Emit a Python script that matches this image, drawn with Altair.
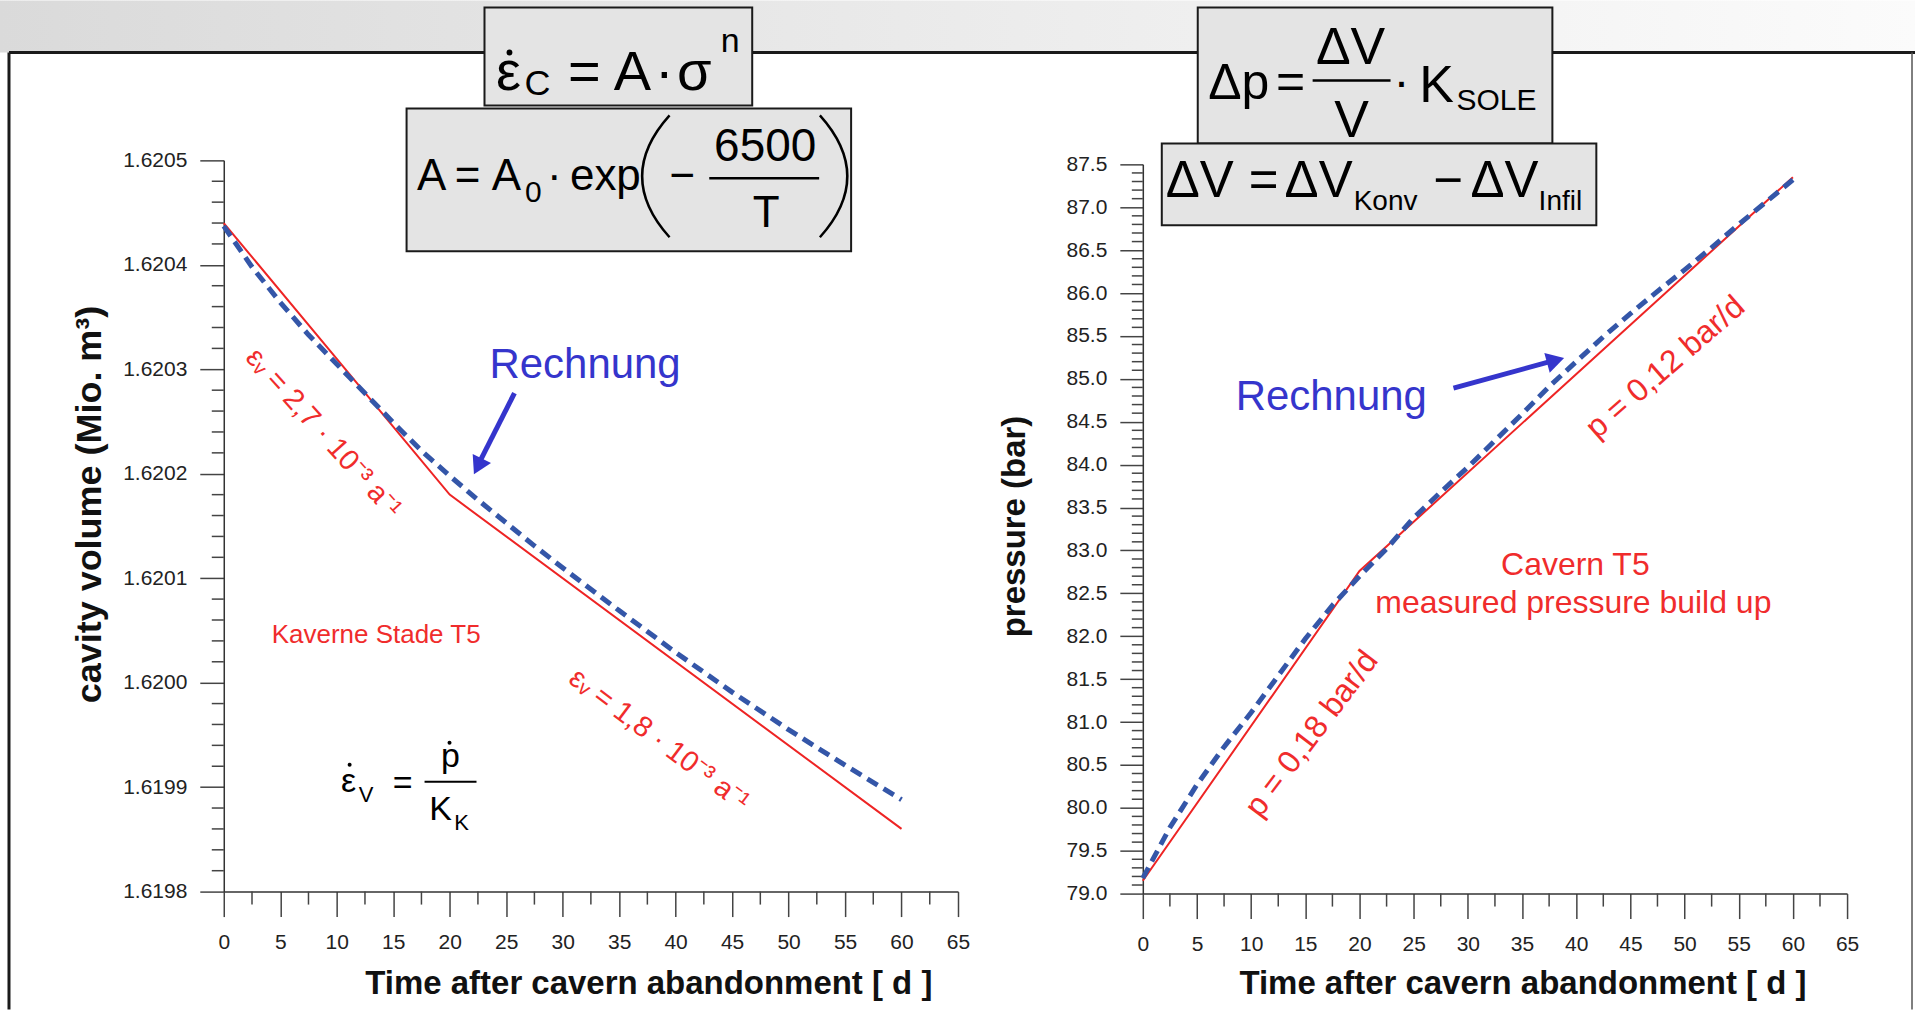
import altair as alt
import pandas as pd

# ---------------- data ----------------
vol_days_meas = [0, 20, 60]
vol_meas = [1.62044, 1.62018, 1.61986]
vol_days_calc = [0, 2.5, 5, 7.5, 10, 12.5, 15, 17.5, 20, 22.5, 25, 27.5, 30, 35, 40, 45, 50, 55, 60]
vol_calc = [1.620437, 1.620398, 1.620364, 1.620333, 1.620305, 1.620277, 1.620249, 1.620222, 1.620198,
            1.620175, 1.620153, 1.620131, 1.620110, 1.620069, 1.620029, 1.619991, 1.619955,
            1.619921, 1.619888]

p_days_meas = [0, 20, 60]
p_meas = [79.15, 82.76, 87.35]
p_days_calc = [0, 2.5, 5, 7.5, 10, 12.5, 15, 17.5, 20, 22.5, 25, 27.5, 30, 32.5, 35, 37.5,
               40, 42.5, 45, 47.5, 50, 52.5, 55, 57.5, 60]
p_calc = [79.18, 79.77, 80.27, 80.71, 81.11, 81.54, 81.97, 82.36, 82.70, 83.02, 83.38, 83.68,
          83.97, 84.28, 84.59, 84.91, 85.20, 85.49, 85.76, 86.02, 86.27, 86.53, 86.80, 87.06, 87.32]

x_ticks = [0, 5, 10, 15, 20, 25, 30, 35, 40, 45, 50, 55, 60, 65]
vol_ticks = [1.6198, 1.6199, 1.6200, 1.6201, 1.6202, 1.6203, 1.6204, 1.6205]
p_ticks = [79.0, 79.5, 80.0, 80.5, 81.0, 81.5, 82.0, 82.5, 83.0, 83.5, 84.0, 84.5,
           85.0, 85.5, 86.0, 86.5, 87.0, 87.5]
x_minor = [t + 2.5 for t in x_ticks[:-1]]
vol_minor = [round(1.6198 + 0.00002 * i, 5) for i in range(36) if i % 5]
p_minor = [round(79.0 + 0.1 * i, 1) for i in range(86) if i % 5]

# ---------------- layout / style ----------------
FONT = "Liberation Sans"
RED = "#ee2424"
RED_TXT = "#f02c2c"
BLUE_LINE = "#3456a8"
BLUE_TXT = "#3535cc"
BOX_FILL = "#e4e4e4"

L_X0, L_Y0, L_W, L_H = 224, 160, 735, 732
R_X0, R_Y0, R_W, R_H = 1144, 160, 705, 734
SPACING = R_X0 - (L_X0 + L_W)

ONE = pd.DataFrame({"k": [0]})


def txt(s, x, y, size, ox, oy, color="#000", align="center", baseline="alphabetic",
        angle=0, weight="normal"):
    return alt.Chart(ONE).mark_text(
        text=s, align=align, baseline=baseline, angle=angle, font=FONT,
        fontSize=size, fontWeight=weight, color=color
    ).encode(x=alt.value(x - ox), y=alt.value(y - oy))


def rect(x, x2, y, y2, ox, oy, fill, stroke=None, sw=0):
    kw = dict(fill=fill)
    if stroke:
        kw.update(stroke=stroke, strokeWidth=sw)
    return alt.Chart(ONE).mark_rect(**kw).encode(
        x=alt.value(x - ox), x2=alt.value(x2 - ox), y=alt.value(y - oy), y2=alt.value(y2 - oy))


def rule(x, y, x2, y2, ox, oy, color="#000", sw=2):
    return alt.Chart(ONE).mark_rule(color=color, strokeWidth=sw).encode(
        x=alt.value(x - ox), y=alt.value(y - oy), x2=alt.value(x2 - ox), y2=alt.value(y2 - oy))


def sym(x, y, ox, oy, shape, size, color="#000", filled=True, angle=0, sw=2.5):
    return alt.Chart(ONE).mark_point(
        shape=shape, size=size, filled=filled, color=color, opacity=1, angle=angle,
        strokeWidth=(0 if filled else sw)
    ).encode(x=alt.value(x - ox), y=alt.value(y - oy))


# ---------------- left panel ----------------
xsL = alt.Scale(domain=[0, 65], nice=False, zero=False)
ysL = alt.Scale(domain=[1.6198, 1.6205], nice=False, zero=False)
xaL = alt.Axis(values=x_ticks, format="d", tickSize=25, labelPadding=15,
               title="Time after cavern abandonment [ d ]", titleX=425, titleY=102,
               titleAlign="center", titleBaseline="alphabetic")
yaL = alt.Axis(values=vol_ticks, format=".4f", tickSize=24, labelPadding=13,
               title="cavity volume (Mio. m³)", titleX=-134, titleY=344, titleAngle=270,
               titleAlign="center", titleBaseline="middle", titleFontSize=36)

dfL_meas = pd.DataFrame({"day": vol_days_meas, "val": vol_meas})
dfL_calc = pd.DataFrame({"day": vol_days_calc, "val": vol_calc})
dfL_xm = pd.DataFrame({"day": x_minor})
dfL_ym = pd.DataFrame({"val": vol_minor})

left_layers = [
    # slide background band and frame
    alt.Chart(ONE).mark_rect(
        fill=alt.Gradient(gradient="linear", x1=0, x2=1, y1=0, y2=0,
                          stops=[alt.GradientStop(color="#dadada", offset=0),
                                 alt.GradientStop(color="#ebebeb", offset=0.5),
                                 alt.GradientStop(color="#fbfbfb", offset=1)])
    ).encode(x=alt.value(0 - L_X0), x2=alt.value(1917 - L_X0),
             y=alt.value(0 - L_Y0), y2=alt.value(52 - L_Y0)),
    rule(9, 52, 1917, 52, L_X0, L_Y0, "#1a1a1a", 3),
    rule(9, 52, 9, 1010, L_X0, L_Y0, "#1a1a1a", 3),
    # formula box 1
    rect(485, 753, 7, 105, L_X0, L_Y0, BOX_FILL, "#1a1a1a", 2),
    txt("ε", 509, 90, 56, L_X0, L_Y0),
    sym(510, 52, L_X0, L_Y0, "circle", 34),
    txt("C", 538, 95, 36, L_X0, L_Y0),
    txt("=", 585, 90, 56, L_X0, L_Y0),
    txt("A", 633, 90, 56, L_X0, L_Y0),
    txt("·", 665, 90, 56, L_X0, L_Y0),
    txt("σ", 695, 90, 56, L_X0, L_Y0),
    txt("n", 731, 52, 34, L_X0, L_Y0),
    # formula box 2
    rect(407, 852, 108, 251, L_X0, L_Y0, BOX_FILL, "#1a1a1a", 2),
    txt("A", 432, 190, 44, L_X0, L_Y0),
    txt("=", 468, 190, 44, L_X0, L_Y0),
    txt("A", 507, 190, 44, L_X0, L_Y0),
    txt("0", 534, 202, 30, L_X0, L_Y0),
    txt("·", 555, 190, 44, L_X0, L_Y0),
    txt("exp", 606, 190, 44, L_X0, L_Y0),
    sym(655, 176, L_X0, L_Y0, "M0.25,-1 Q-0.65,0 0.25,1", 14884, filled=False, sw=2.5),
    txt("−", 683, 190, 44, L_X0, L_Y0),
    rule(710, 178, 820, 178, L_X0, L_Y0, "#000", 2.5),
    txt("6500", 766, 161, 46, L_X0, L_Y0),
    txt("T", 767, 227, 44, L_X0, L_Y0),
    sym(836, 176, L_X0, L_Y0, "M-0.25,-1 Q0.65,0 -0.25,1", 14884, filled=False, sw=2.5),
    # minor ticks
    alt.Chart(dfL_xm).mark_rule(color="#444", strokeWidth=1.5).encode(
        x=alt.X("day:Q", scale=xsL, axis=xaL), y=alt.value(L_H), y2=alt.value(L_H + 13)),
    alt.Chart(dfL_ym).mark_rule(color="#444", strokeWidth=1.5).encode(
        y=alt.Y("val:Q", scale=ysL, axis=yaL), x=alt.value(-12), x2=alt.value(0)),
    # data
    alt.Chart(dfL_meas).mark_line(color=RED, strokeWidth=2).encode(
        x=alt.X("day:Q", scale=xsL, axis=xaL), y=alt.Y("val:Q", scale=ysL, axis=yaL)),
    alt.Chart(dfL_calc).mark_line(color=BLUE_LINE, strokeWidth=5, strokeDash=[12, 7]).encode(
        x=alt.X("day:Q", scale=xsL, axis=xaL), y=alt.Y("val:Q", scale=ysL, axis=yaL)),
    # annotations
    txt("Rechnung", 490, 378, 42, L_X0, L_Y0, BLUE_TXT, align="left"),
    rule(515, 393, 478, 466, L_X0, L_Y0, BLUE_TXT, 5),
    sym(478.4, 466.4, L_X0, L_Y0, "triangle-up", 420, BLUE_TXT, angle=206.6),
    txt("εᵥ = 2,7 · 10⁻³ a⁻¹", 324, 433, 29, L_X0, L_Y0, RED_TXT, baseline="middle", angle=48),
    txt("εᵥ = 1,8 · 10⁻³ a⁻¹", 660, 740, 29, L_X0, L_Y0, RED_TXT, baseline="middle", angle=37),
    txt("Kaverne Stade T5", 272, 643, 26, L_X0, L_Y0, RED_TXT, align="left"),
    # small formula
    txt("ε", 349, 792, 34, L_X0, L_Y0),
    sym(350, 765, L_X0, L_Y0, "circle", 16),
    txt("V", 366.5, 802, 22, L_X0, L_Y0),
    txt("=", 403, 794, 34, L_X0, L_Y0),
    txt("p", 451, 767, 34, L_X0, L_Y0),
    sym(450, 743, L_X0, L_Y0, "circle", 16),
    rule(425, 782, 477, 782, L_X0, L_Y0, "#000", 2),
    txt("K", 441, 820, 34, L_X0, L_Y0),
    txt("K", 462, 830, 22, L_X0, L_Y0),
]
left = alt.layer(*left_layers).properties(width=L_W, height=L_H)

# ---------------- right panel ----------------
xsR = alt.Scale(domain=[0, 65], nice=False, zero=False)
ysR = alt.Scale(domain=[79, 87.5], nice=False, zero=False, range=[R_H, 4])
xaR = alt.Axis(values=x_ticks, format="d", tickSize=25, labelPadding=15,
               title="Time after cavern abandonment [ d ]", titleX=380, titleY=100,
               titleAlign="center", titleBaseline="alphabetic")
yaR = alt.Axis(values=p_ticks, format=".1f", tickSize=23, labelPadding=13,
               title="pressure (bar)", titleX=-128, titleY=366, titleAngle=270,
               titleAlign="center", titleBaseline="middle")

dfR_meas = pd.DataFrame({"day": p_days_meas, "val": p_meas})
dfR_calc = pd.DataFrame({"day": p_days_calc, "val": p_calc})
dfR_xm = pd.DataFrame({"day": x_minor})
dfR_ym = pd.DataFrame({"val": p_minor})

right_layers = [
    rule(1914, 52, 1914, 1010, R_X0, R_Y0, "#555", 1.5),
    # formula box 3
    rect(1199, 1554, 7, 143, R_X0, R_Y0, BOX_FILL, "#1a1a1a", 2),
    txt("Δp", 1240, 99, 50, R_X0, R_Y0),
    txt("=", 1292, 98, 50, R_X0, R_Y0),
    txt("ΔV", 1352, 64, 52, R_X0, R_Y0),
    rule(1314, 80, 1392, 80, R_X0, R_Y0, "#000", 2.5),
    txt("V", 1353, 137, 52, R_X0, R_Y0),
    txt("·", 1403, 98, 48, R_X0, R_Y0),
    txt("K", 1438, 102, 52, R_X0, R_Y0),
    txt("SOLE", 1498, 110, 30, R_X0, R_Y0),
    # formula box 4
    rect(1163, 1598, 143, 225, R_X0, R_Y0, BOX_FILL, "#1a1a1a", 2),
    txt("ΔV", 1201, 197, 51, R_X0, R_Y0),
    txt("=", 1265, 197, 51, R_X0, R_Y0),
    txt("ΔV", 1320, 197, 51, R_X0, R_Y0),
    txt("Konv", 1387, 210, 28, R_X0, R_Y0),
    txt("−", 1450, 197, 51, R_X0, R_Y0),
    txt("ΔV", 1506, 197, 51, R_X0, R_Y0),
    txt("Infil", 1562, 210, 28, R_X0, R_Y0),
    # minor ticks
    alt.Chart(dfR_xm).mark_rule(color="#444", strokeWidth=1.5).encode(
        x=alt.X("day:Q", scale=xsR, axis=xaR), y=alt.value(R_H), y2=alt.value(R_H + 13)),
    alt.Chart(dfR_ym).mark_rule(color="#444", strokeWidth=1.5).encode(
        y=alt.Y("val:Q", scale=ysR, axis=yaR), x=alt.value(-11), x2=alt.value(0)),
    # data
    alt.Chart(dfR_meas).mark_line(color=RED, strokeWidth=2).encode(
        x=alt.X("day:Q", scale=xsR, axis=xaR), y=alt.Y("val:Q", scale=ysR, axis=yaR)),
    alt.Chart(dfR_calc).mark_line(color=BLUE_LINE, strokeWidth=5, strokeDash=[12, 7]).encode(
        x=alt.X("day:Q", scale=xsR, axis=xaR), y=alt.Y("val:Q", scale=ysR, axis=yaR)),
    # annotations
    txt("Rechnung", 1237, 410, 42, R_X0, R_Y0, BLUE_TXT, align="left"),
    rule(1455, 388, 1557, 360, R_X0, R_Y0, BLUE_TXT, 5),
    sym(1557.2, 360.3, R_X0, R_Y0, "triangle-up", 420, BLUE_TXT, angle=74.7),
    txt("Cavern T5", 1577, 575, 32, R_X0, R_Y0, RED_TXT),
    txt("measured pressure build up", 1575, 613, 32, R_X0, R_Y0, RED_TXT),
    txt("p = 0,18 bar/d", 1313, 734, 32, R_X0, R_Y0, RED_TXT, baseline="middle", angle=307),
    txt("p = 0,12 bar/d", 1667, 367, 32, R_X0, R_Y0, RED_TXT, baseline="middle", angle=319),
]
right = alt.layer(*right_layers).properties(width=R_W, height=R_H)

chart = alt.hconcat(left, right, spacing=SPACING, bounds="flush").properties(
    padding=0, background="white"
).configure_view(stroke=None).configure_axis(
    grid=False, domainColor="#333", domainWidth=1.5, tickColor="#444", tickWidth=1.5,
    labelFont=FONT, labelFontSize=21, labelColor="#222", labelFlush=False, labelOverlap=False,
    titleFont=FONT, titleFontSize=33, titleFontWeight="bold", titleColor="#111"
)

chart.save("out.html", embed_options={"renderer": "svg", "actions": False})
